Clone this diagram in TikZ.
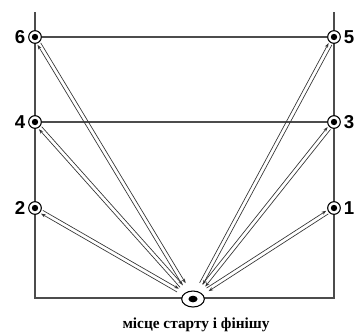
\documentclass[tikz,border=0pt]{standalone}
\usepackage{fontspec}
\setmainfont{Liberation Serif}
\setsansfont{Liberation Sans}
\usetikzlibrary{arrows.meta,calc,shapes.geometric}

\begin{document}
\begin{tikzpicture}[x=0.75pt,y=-0.75pt,
  pnt/.style={circle,draw,thick,inner sep=0pt,minimum size=9.5pt,fill=white},
  num/.style={font=\sffamily\bfseries\fontsize{14}{16}\selectfont,inner sep=1pt},
  arr/.style={-{Stealth[length=3.5pt,width=2.5pt]},line width=0.5pt,black!80}]
  \useasboundingbox (0,0) rectangle (359,333);
  % field
  \draw[line width=0.9pt,black!70] (35,12) -- (35,298) -- (334,298) -- (334,12);
  % points
  \node[pnt] (p6) at (35,37) {};
  \node[pnt] (p4) at (35,122) {};
  \node[pnt] (p2) at (35,208) {};
  \node[pnt] (p5) at (334,37) {};
  \node[pnt] (p3) at (334,122) {};
  \node[pnt] (p1) at (334,208) {};
  \node[ellipse,draw,thick,minimum width=17pt,minimum height=12pt,inner sep=0pt,fill=white]
        (st) at (193,299) {};
  \foreach \p in {p1,p2,p3,p4,p5,p6}
    \fill (\p) circle (2.4pt);
  \fill (st) ellipse (3.4pt and 2.5pt);
  \draw[line width=0.9pt,black!70] (p6) -- (p5);
  \draw[line width=0.9pt,black!70] (p4) -- (p3);
  % labels
  \node[num,left=1pt] at (p6.west) {6};
  \node[num,left=1pt] at (p4.west) {4};
  \node[num,left=1pt] at (p2.west) {2};
  \node[num,right=1pt] at (p5.east) {5};
  \node[num,right=1pt] at (p3.east) {3};
  \node[num,right=1pt] at (p1.east) {1};
  % runs there and back
  \foreach \p in {p1,p2,p3,p4,p5,p6} {
    \draw[arr,shorten <=13pt,shorten >=6pt]
      ($(st)!1.4pt!90:(\p)$) -- ($(\p)!1.4pt!-90:(st)$);
    \draw[arr,shorten <=6pt,shorten >=13pt]
      ($(\p)!1.4pt!90:(st)$) -- ($(st)!1.4pt!-90:(\p)$);
  }
  \node[font=\bfseries\fontsize{11.5}{13}\selectfont] (cap) at (196,325) {місце старту і фінішу};
\end{tikzpicture}
\end{document}
